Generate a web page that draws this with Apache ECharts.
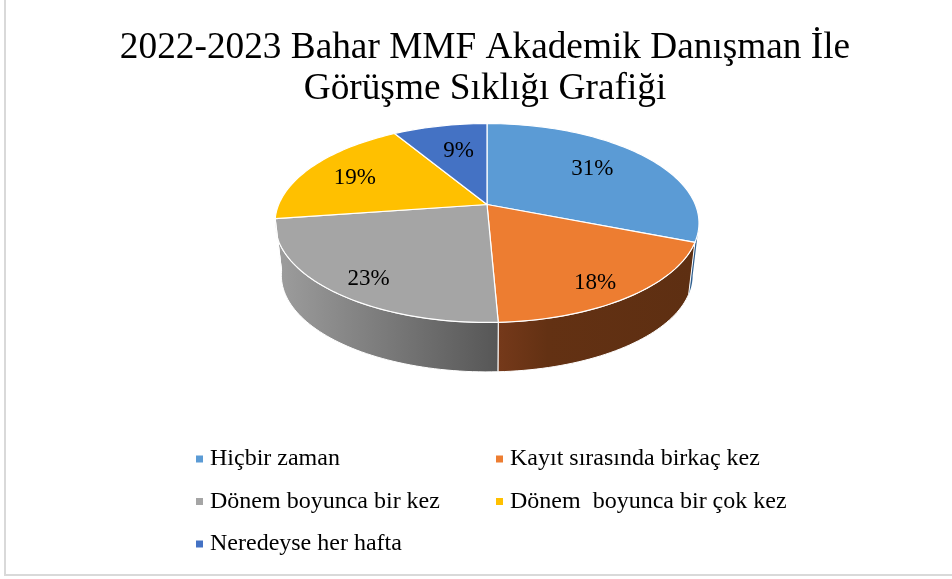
<!DOCTYPE html>
<html>
<head>
<meta charset="utf-8">
<style>
  html, body { margin: 0; padding: 0; background: #fff; }
  #main { width: 952px; height: 579px; }
</style>
<script src="https://cdn.jsdelivr.net/npm/echarts@6/dist/echarts.min.js"></script>
</head>
<body>
<div id="main"></div>
<script>
var titleText = "2022-2023 Bahar MMF Akademik Danışman İle\nGörüşme Sıklığı Grafiği";
var categories = ["Hiçbir zaman", "Kayıt sırasında birkaç kez", "Dönem boyunca bir kez", "Dönem  boyunca bir çok kez", "Neredeyse her hafta"];
var values = [31, 18.3, 23.4, 18.7, 8.6];

var colors = ["#5B9BD5", "#ED7D31", "#A5A5A5", "#FFC000", "#4472C4"];
// radial place of each % label, 1 = on the rim, plus a small nudge in px
var labelRadius = [0.58, 0.8, 0.82, 0.75, 0.63];
var labelNudge = [[11, -6], [-2, 7], [5, 6], [1, 3], [3, -1]];

// fake perspective of the 3d pie
var cx = 487, topY = 204.5, bottomY = 257.5;
var rx = 208.3, ry = 96, tilt = 0.186, bottomScale = 0.97;
var wallFrom = 100.7, wallTo = 262;

var total = values.reduce(function (a, b) { return a + b; }, 0);
var starts = [];
values.reduce(function (sum, v, i) {
  starts[i] = sum / total * 360;
  return sum + v;
}, 0);

function project(deg, r, y0, scale) {
  var a = deg * Math.PI / 180;
  var u = Math.sin(a) * r, v = -Math.cos(a) * r;
  var w = 1 - tilt * v;
  return [cx + scale * rx * u / w, y0 + scale * ry * v / w];
}

function arc(from, to, y0, scale) {
  var pts = [];
  var n = Math.max(2, Math.ceil((to - from) / 1.5));
  for (var i = 0; i <= n; i++) {
    pts.push(project(from + (to - from) * i / n, 1, y0, scale));
  }
  return pts;
}

function wallFill(i) {
  if (i === 0) return "#2f5f8f";
  if (i === 1) {
    return new echarts.graphic.LinearGradient(499, 0, 693, 0, [
      { offset: 0, color: "#75391a" }, { offset: 0.25, color: "#633113" }, { offset: 1, color: "#5e2f12" }
    ], true);
  }
  return new echarts.graphic.LinearGradient(280, 0, 499, 0, [
    { offset: 0, color: "#9c9c9c" }, { offset: 1, color: "#565656" }
  ], true);
}

function renderSlice(i) {
  return function (params, api) {
    var from = starts[i];
    var to = from + api.value(0) / total * 360;
    var children = [];
    var a = Math.max(from, wallFrom), b = Math.min(to, wallTo);
    if (b > a) {
      children.push({
        type: "polygon",
        shape: { points: arc(a, b, topY, 1).concat(arc(a, b, bottomY, bottomScale).reverse()) },
        style: { fill: wallFill(i), stroke: "#fff", lineWidth: i === 0 ? 0 : 1 }
      });
    }
    children.push({
      type: "polygon",
      shape: { points: [project(0, 0, topY, 1)].concat(arc(from, to, topY, 1)) },
      style: { fill: colors[i], stroke: "#fff", lineWidth: 1.2, lineJoin: "round" }
    });
    var mid = project((from + to) / 2, labelRadius[i], topY, 1);
    children.push({
      type: "text",
      x: mid[0] + labelNudge[i][0],
      y: mid[1] + labelNudge[i][1],
      z2: 10,
      style: {
        text: Math.round(api.value(0) / total * 100) + "%",
        fill: "#000",
        font: "23px 'Liberation Serif'",
        align: "center",
        verticalAlign: "middle"
      }
    });
    return { type: "group", children: children };
  };
}

var legendText = { color: "#000", fontFamily: "Liberation Serif", fontSize: 24, padding: [0, 0, 0, 2] };

var option = {
  animation: false,
  backgroundColor: "#fff",
  title: {
    text: titleText,
    left: 480,
    top: 22,
    textAlign: "center",
    textStyle: { color: "#000", fontFamily: "Liberation Serif", fontWeight: "normal", fontSize: 37.3, lineHeight: 41.5 }
  },
  legend: [
    {
      data: [categories[0], categories[2], categories[4]],
      orient: "vertical", left: 191, top: 442, icon: "rect",
      itemWidth: 7, itemHeight: 7, itemGap: 18.5, textStyle: legendText
    },
    {
      data: [categories[1], categories[3]],
      orient: "vertical", left: 491, top: 442, icon: "rect",
      itemWidth: 7, itemHeight: 7, itemGap: 18.5, textStyle: legendText
    }
  ],
  graphic: [
    { type: "rect", shape: { x: 4, y: 0, width: 2, height: 576 }, style: { fill: "#d9d9d9" }, silent: true },
    { type: "rect", shape: { x: 4, y: 574, width: 948, height: 2 }, style: { fill: "#d9d9d9" }, silent: true }
  ],
  series: categories.map(function (name, i) {
    return {
      type: "custom",
      name: name,
      coordinateSystem: "none",
      itemStyle: { color: colors[i] },
      renderItem: renderSlice(i),
      data: [values[i]]
    };
  })
};

var myChart = echarts.init(document.getElementById("main"));
myChart.setOption(option);
</script>
</body>
</html>
